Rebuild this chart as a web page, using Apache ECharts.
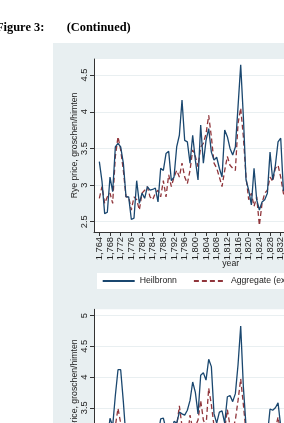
<!DOCTYPE html>
<html>
<head>
<meta charset="utf-8">
<script src="https://cdn.jsdelivr.net/npm/echarts@6/dist/echarts.min.js"></script>
<style>
	html, body { margin: 0; padding: 0; background: #fff; }
	#main { width: 284px; height: 423px; }
</style>
</head>
<body>
<div id="main"></div>
<script>
var years = [
	1764, 1765, 1766, 1767, 1768, 1769, 1770, 1771, 1772, 1773, 1774, 1775,
	1776, 1777, 1778, 1779, 1780, 1781, 1782, 1783, 1784, 1785, 1786, 1787,
	1788, 1789, 1790, 1791, 1792, 1793, 1794, 1795, 1796, 1797, 1798, 1799,
	1800, 1801, 1802, 1803, 1804, 1805, 1806, 1807, 1808, 1809, 1810, 1811,
	1812, 1813, 1814, 1815, 1816, 1817, 1818, 1819, 1820, 1821, 1822, 1823,
	1824, 1825, 1826, 1827, 1828, 1829, 1830, 1831, 1832, 1833, 1834, 1835
];
// top panel
var heilbronn = [
	3.32, 3.05, 2.61, 2.63, 3.11, 2.91, 3.52, 3.57, 3.52, 3.30, 2.84, 2.84,
	2.53, 2.55, 3.06, 2.75, 2.89, 2.82, 2.98, 2.93, 2.94, 2.96, 2.77, 3.23,
	3.20, 3.43, 3.46, 3.06, 3.11, 3.52, 3.68, 4.16, 3.61, 3.59, 3.30, 3.68,
	3.34, 3.07, 3.82, 3.30, 3.61, 3.77, 3.45, 3.34, 3.38, 3.23, 3.11, 3.75,
	3.66, 3.50, 3.41, 3.52, 4.07, 4.64, 3.93, 3.07, 2.93, 2.73, 3.23, 2.80,
	2.66, 2.77, 2.80, 2.89, 3.45, 3.07, 3.27, 3.59, 3.64, 2.93, 2.90, 3.00
];
var aggregate = [
	2.82, 2.98, 2.75, 2.84, 2.89, 2.75, 3.39, 3.66, 3.48, 3.20, 2.84, 2.84,
	2.66, 2.84, 2.80, 2.66, 2.89, 2.93, 2.98, 2.84, 2.80, 2.89, 2.93, 2.84,
	3.06, 2.84, 3.14, 2.98, 3.11, 3.20, 3.11, 3.30, 3.11, 3.02, 3.20, 3.48,
	3.39, 3.25, 3.52, 3.57, 3.70, 3.95, 3.66, 3.30, 3.23, 3.11, 2.98, 3.20,
	3.39, 3.27, 3.23, 3.20, 3.84, 4.05, 3.66, 3.11, 2.80, 2.89, 2.71, 2.84,
	2.45, 2.75, 2.89, 2.93, 3.11, 3.05, 3.23, 3.27, 3.11, 2.89, 2.80, 2.90
];
// bottom panel (only its upper part is visible)
var city2 = [
	3.00, 2.90, 2.80, 2.95, 3.33, 3.20, 3.70, 4.12, 4.12, 3.60, 3.00, 2.95,
	2.70, 2.80, 2.90, 2.80, 2.95, 2.90, 3.05, 3.00, 3.05, 3.10, 3.05, 3.32,
	3.33, 3.15, 3.20, 3.05, 3.28, 3.25, 3.43, 3.40, 3.38, 3.46, 3.62, 3.92,
	3.75, 3.40, 4.03, 4.07, 3.95, 4.29, 4.17, 3.40, 3.25, 3.43, 3.45, 3.25,
	3.68, 3.70, 3.60, 3.73, 4.20, 4.83, 3.84, 3.20, 3.00, 2.90, 3.10, 2.95,
	2.80, 2.90, 3.00, 3.05, 3.48, 3.46, 3.50, 3.58, 3.20, 3.00, 3.00, 3.05
];
var aggregate2 = [
	2.85, 2.95, 2.75, 2.85, 2.90, 2.80, 3.20, 3.49, 3.25, 3.10, 2.85, 2.85,
	2.65, 2.85, 2.80, 2.70, 2.90, 2.90, 2.95, 2.85, 2.80, 2.90, 2.90, 2.85,
	3.05, 2.85, 3.10, 2.95, 3.10, 3.20, 3.53, 3.20, 3.05, 3.00, 3.38, 3.15,
	3.20, 3.30, 3.62, 3.30, 3.20, 3.82, 3.55, 3.20, 3.15, 3.05, 2.95, 3.15,
	3.47, 3.20, 3.15, 3.30, 3.62, 3.97, 3.55, 3.10, 2.80, 2.85, 2.70, 2.80,
	2.50, 2.75, 2.85, 2.90, 3.05, 3.00, 3.15, 3.35, 3.10, 2.90, 2.85, 2.90
];
var xTicks = [1764, 1768, 1772, 1776, 1780, 1784, 1788, 1792, 1796, 1800, 1804, 1808,
	1812, 1816, 1820, 1824, 1828, 1832, 1836, 1840, 1844, 1848, 1852, 1856, 1860, 1864];
var yTicksTop = [2.5, 3, 3.5, 4, 4.5];
var yTicksBottom = [2.5, 3, 3.5, 4, 4.5, 5];

var NAVY = '#1a476f';
var MAROON = '#90353b';
var FONT = '"Liberation Sans", Arial, sans-serif';

function pairs(vals){
	return years.map(function(y, i){ return [y, vals[i]]; });
}

function makeX(idx, showName){
	return {
		type: 'value', gridIndex: idx, min: 1762, max: 1864.5,
		name: showName ? 'year' : '', nameLocation: 'middle', nameGap: 27, nameMoveOverlap: false,
		nameTextStyle: { fontFamily: FONT, fontSize: 8.7, color: '#222' },
		axisLine: { lineStyle: { color: '#333', width: 1 } },
		axisTick: { customValues: xTicks, length: 4, lineStyle: { color: '#333' } },
		axisLabel: { customValues: xTicks, rotate: 90, margin: 5, fontFamily: FONT, fontSize: 9.3, color: '#222' },
		splitLine: { show: false }
	};
}

function makeY(idx, min, max, ticks){
	return {
		type: 'value', gridIndex: idx, min: min, max: max,
		name: 'Rye price, groschen/himten', nameLocation: 'middle', nameGap: 15, nameMoveOverlap: false,
		nameTextStyle: { fontFamily: FONT, fontSize: 8.7, color: '#222' },
		axisLine: { show: true, lineStyle: { color: '#333', width: 1 } },
		axisTick: { show: true, customValues: ticks, length: 4, lineStyle: { color: '#333' } },
		axisLabel: { customValues: ticks, rotate: 90, margin: 5.5, fontFamily: FONT, fontSize: 9.3, color: '#222' },
		splitLine: { show: true, lineStyle: { color: '#e9eff1', width: 1 } }
	};
}

var myChart = echarts.init(document.getElementById('main'));

var option = {
	animation: false,
	graphic: { elements: [
		{ type: 'rect', z: -10, shape: { x: 53, y: 43, width: 240, height: 390 }, style: { fill: '#e8eff1' } },
		{ type: 'text', x: 44.3, y: 28, style: { text: 'Figure 3:', align: 'right', verticalAlign: 'middle',
			font: 'bold 12.4px "Liberation Serif", "Times New Roman", serif', fill: '#000' } },
		{ type: 'text', x: 66.7, y: 28, style: { text: '(Continued)', align: 'left', verticalAlign: 'middle',
			font: 'bold 12.4px "Liberation Serif", "Times New Roman", serif', fill: '#000' } }
	]},
	legend: {
		left: 97, top: 273, width: 400, orient: 'horizontal',
		data: ['Heilbronn', 'Aggregate (excl. Heilbronn)'],
		backgroundColor: '#fff', borderWidth: 0,
		padding: [3.5, 4.7], itemWidth: 32, itemHeight: 10, itemGap: 16,
		itemStyle: { opacity: 0 },
		textStyle: { fontFamily: FONT, fontSize: 8.7, color: '#222' }
	},
	grid: [
		{ left: 94, top: 59, width: 273.4, height: 173, show: true, backgroundColor: '#fff', borderWidth: 0,
			containLabel: false, outerBoundsMode: 'none' },
		{ left: 94, top: 309.3, width: 273.4, height: 166, show: true, backgroundColor: '#fff', borderWidth: 0,
			containLabel: false, outerBoundsMode: 'none' }
	],
	xAxis: [makeX(0, true), makeX(1, true)],
	yAxis: [makeY(0, 2.36, 4.72, yTicksTop), makeY(1, 2.4, 5.104, yTicksBottom)],
	series: [
		{ name: 'Heilbronn', type: 'line', xAxisIndex: 0, yAxisIndex: 0, data: pairs(heilbronn),
			symbol: 'none', lineStyle: { color: NAVY, width: 1.3 }, itemStyle: { color: NAVY }, z: 3 },
		{ name: 'Aggregate (excl. Heilbronn)', type: 'line', xAxisIndex: 0, yAxisIndex: 0, data: pairs(aggregate),
			symbol: 'none', lineStyle: { color: MAROON, width: 1.3, type: [5, 3] }, itemStyle: { color: MAROON }, z: 2 },
		{ name: 'City', type: 'line', xAxisIndex: 1, yAxisIndex: 1, data: pairs(city2),
			symbol: 'none', lineStyle: { color: NAVY, width: 1.3 }, itemStyle: { color: NAVY }, z: 3 },
		{ name: 'Aggregate (excl. city)', type: 'line', xAxisIndex: 1, yAxisIndex: 1, data: pairs(aggregate2),
			symbol: 'none', lineStyle: { color: MAROON, width: 1.3, type: [5, 3] }, itemStyle: { color: MAROON }, z: 2 }
	]
};

myChart.setOption(option);
</script>
</body>
</html>
